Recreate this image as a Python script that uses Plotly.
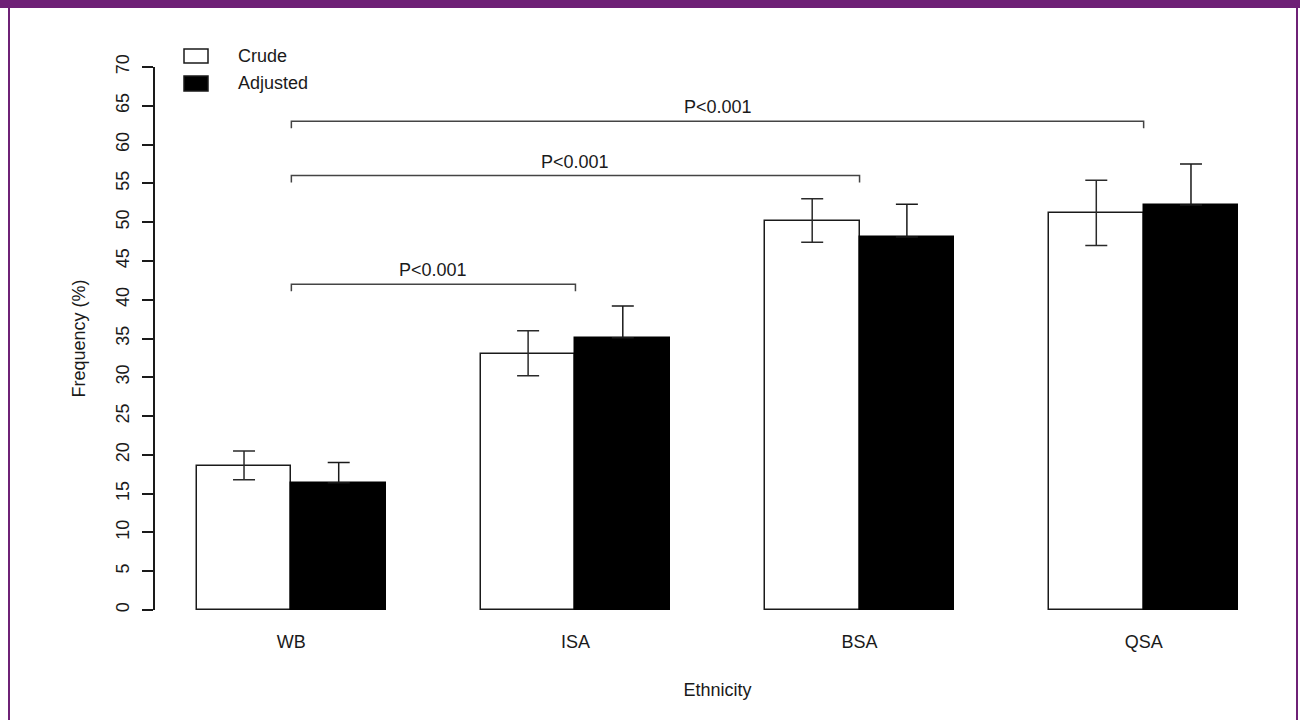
import plotly.graph_objects as go

# ---------------- data ----------------
groups = ["WB", "ISA", "BSA", "QSA"]
crude = [18.6, 33.0, 50.2, 51.2]
crude_lo = [16.8, 30.2, 47.4, 47.0]
crude_hi = [20.5, 36.0, 53.0, 55.4]
adjusted = [16.4, 35.1, 48.1, 52.2]
adjusted_hi = [19.0, 39.2, 52.3, 57.5]
y_ticks = list(range(0, 75, 5))
comparisons = [("WB", "ISA", 42.0, "P<0.001"),
               ("WB", "BSA", 56.0, "P<0.001"),
               ("WB", "QSA", 63.0, "P<0.001")]
legend_names = ["Crude", "Adjusted"]

# ---------------- layout helpers ----------------
W, H = 1300, 720
L, R, T, B = 155, 1280, 67, 610          # plot area in pixels
FONT = "Liberation Sans, Arial, sans-serif"
FS = 18
INK = "#1a1a1a"
PURPLE = "#6E2176"

def px_x(p):
    return (p - L) / (R - L)

def px_y(p):
    return (B - p) / (B - T)

centers = [2 + 3 * i for i in range(len(groups))]
x_crude = [c - 0.5 for c in centers]
x_adj = [c + 0.5 for c in centers]
pos = dict(zip(groups, centers))

fig = go.Figure()
fig.add_trace(go.Bar(
    x=x_crude, y=crude, width=1, name=legend_names[0],
    marker=dict(color="white", line=dict(color=INK, width=1.5)),
    error_y=dict(type="data", symmetric=False,
                 array=[h - v for h, v in zip(crude_hi, crude)],
                 arrayminus=[v - l for v, l in zip(crude, crude_lo)],
                 color="#2a2a2a", thickness=1.5, width=11),
    showlegend=False,
))
fig.add_trace(go.Bar(
    x=x_adj, y=adjusted, width=1, name=legend_names[1],
    marker=dict(color="black", line=dict(color="black", width=1.5)),
    error_y=dict(type="data", symmetric=False,
                 array=[h - v for h, v in zip(adjusted_hi, adjusted)],
                 arrayminus=[0] * len(adjusted),
                 color="#1a1a1a", thickness=1.5, width=11),
    showlegend=False,
))

shapes = []
annotations = []

# significance brackets
drop = 0.9
for g1, g2, h, txt in comparisons:
    x1, x2 = pos[g1], pos[g2]
    shapes.append(dict(type="path", xref="x", yref="y",
                       path=f"M {x1},{h - drop} L {x1},{h} L {x2},{h} L {x2},{h - drop}",
                       line=dict(color="#444444", width=1.5)))
    annotations.append(dict(x=(x1 + x2) / 2, y=h, xref="x", yref="y", text=txt,
                            showarrow=False, yanchor="bottom", yshift=2,
                            font=dict(family=FONT, size=FS, color=INK)))

# manual legend
leg_boxes = [(184, 208, 49, 63, "white"), (184, 208, 76, 91, "black")]
leg_text_y = [56, 83]
for (x0, x1, y0, y1, col), name, ty in zip(leg_boxes, legend_names, leg_text_y):
    shapes.append(dict(type="rect", xref="paper", yref="paper",
                       x0=px_x(x0), x1=px_x(x1), y0=px_y(y1), y1=px_y(y0),
                       fillcolor=col, line=dict(color=INK, width=1.5)))
    annotations.append(dict(x=px_x(236), y=px_y(ty), xref="paper", yref="paper",
                            text=name, showarrow=False, xanchor="left", yanchor="middle",
                            font=dict(family=FONT, size=FS, color=INK)))

# purple frame
shapes.append(dict(type="rect", xref="paper", yref="paper", layer="above",
                   x0=px_x(0), x1=px_x(W), y0=px_y(8), y1=px_y(0),
                   fillcolor=PURPLE, line=dict(width=0)))
for xp in (9, 1297):
    shapes.append(dict(type="line", xref="paper", yref="paper",
                       x0=px_x(xp), x1=px_x(xp), y0=px_y(H), y1=px_y(0),
                       line=dict(color=PURPLE, width=2)))

fig.update_layout(
    width=W, height=H,
    margin=dict(l=L, r=W - R, t=T, b=H - B, autoexpand=False),
    paper_bgcolor="white", plot_bgcolor="white",
    font=dict(family=FONT, size=FS, color=INK),
    barmode="overlay", bargap=0,
    shapes=shapes, annotations=annotations,
    xaxis=dict(range=[0.56, 12.44], tickvals=centers, ticktext=groups,
               showline=False, showgrid=False, zeroline=False, ticks="",
               ticklabelstandoff=19,
               title=dict(text="Ethnicity", standoff=32, font=dict(size=FS))),
    yaxis=dict(range=[0, 70], tickvals=y_ticks, showline=True, linecolor=INK,
               linewidth=1.5, ticks="outside", ticklen=11, tickwidth=1.5,
               tickcolor=INK, tickangle=-90, showgrid=False, zeroline=False,
               ticklabelstandoff=6,
               title=dict(text="Frequency (%)", standoff=23, font=dict(size=FS))),
)

fig.write_html("out.html", config={"displayModeBar": False},
               post_script="document.body.style.margin='0';document.body.style.overflow='hidden';")
